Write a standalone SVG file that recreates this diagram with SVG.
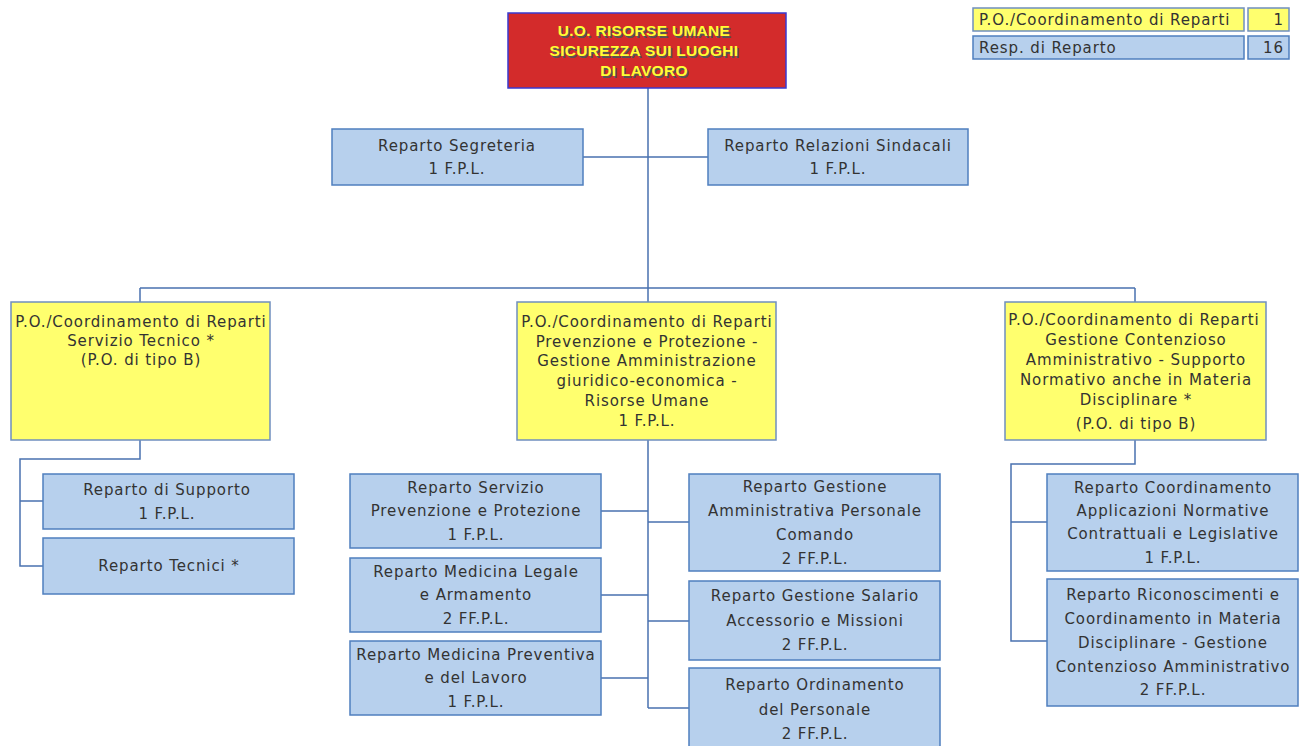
<svg xmlns="http://www.w3.org/2000/svg" width="1300" height="746" viewBox="0 0 1300 746">
<defs>
<style>
.b{fill:#b7d0ed;stroke:#4f7fbe;stroke-width:1.5}
.y{fill:#ffff6e;stroke:#6f8fbf;stroke-width:1.5}
.t{font-family:"DejaVu Sans","Liberation Sans",sans-serif;font-size:15px;letter-spacing:0.9px;fill:#333;text-anchor:middle}
.l{text-anchor:start}
.e{text-anchor:end}
.c{fill:none;stroke:#4a72b0;stroke-width:1.5}
.h{font-family:"Liberation Sans",Arial,sans-serif;font-weight:bold;font-size:15.5px;letter-spacing:0.3px;text-anchor:middle}
</style>
</defs>
<g id="connectors" class="c">
<path d="M648 88V288M583 157H708"/>
<path d="M140 288H1135M140 288V302M648 288V302M1135 288V302"/>
<path d="M140 440V459H20V566H43M20 501H43"/>
<path d="M648 440V708M601 511H648M601 595H648M601 678H648M648 522H689M648 621H689M648 708H689"/>
<path d="M1135 440V464H1011V641H1047M1011 522H1047"/>
</g>
<g id="top">
<rect x="508" y="13" width="278" height="75" fill="#d32b2b" stroke="#3a3ad0" stroke-width="1.5"/>
<g class="h" fill="#555">
<text x="645.5" y="37.5">U.O. RISORSE UMANE</text>
<text x="645.5" y="57.5">SICUREZZA SUI LUOGHI</text>
<text x="645.5" y="77.5">DI LAVORO</text>
</g>
<g class="h" fill="#ffff33">
<text x="644" y="36">U.O. RISORSE UMANE</text>
<text x="644" y="56">SICUREZZA SUI LUOGHI</text>
<text x="644" y="76">DI LAVORO</text>
</g>
</g>
<g id="legend">
<rect class="y" x="973" y="8" width="271" height="23"/>
<rect class="y" x="1248" y="8" width="41" height="23"/>
<rect class="b" x="973" y="36" width="271" height="23"/>
<rect class="b" x="1248" y="36" width="41" height="23"/>
<text class="t l" x="979" y="25">P.O./Coordinamento di Reparti</text>
<text class="t e" x="1284" y="25">1</text>
<text class="t l" x="979" y="53">Resp. di Reparto</text>
<text class="t e" x="1284" y="53">16</text>
</g>
<g id="segreteria">
<rect class="b" x="332" y="129" width="251" height="56"/>
<text class="t" x="457" y="151">Reparto Segreteria</text>
<text class="t" x="457" y="174">1 F.P.L.</text>
</g>
<g id="relazioni">
<rect class="b" x="708" y="129" width="260" height="56"/>
<text class="t" x="838" y="151">Reparto Relazioni Sindacali</text>
<text class="t" x="838" y="174">1 F.P.L.</text>
</g>
<g id="po-tecnico">
<rect class="y" x="11" y="302" width="259" height="138"/>
<text class="t" x="141" y="327">P.O./Coordinamento di Reparti</text>
<text class="t" x="141" y="346">Servizio Tecnico *</text>
<text class="t" x="141" y="365">(P.O. di tipo B)</text>
</g>
<g id="po-prevenzione">
<rect class="y" x="517" y="302" width="259" height="138"/>
<text class="t" x="647" y="327">P.O./Coordinamento di Reparti</text>
<text class="t" x="647" y="347">Prevenzione e Protezione -</text>
<text class="t" x="647" y="366">Gestione Amministrazione</text>
<text class="t" x="647" y="386">giuridico-economica -</text>
<text class="t" x="647" y="406">Risorse Umane</text>
<text class="t" x="647" y="426">1 F.P.L.</text>
</g>
<g id="po-contenzioso">
<rect class="y" x="1005" y="302" width="261" height="138"/>
<text class="t" x="1134" y="325">P.O./Coordinamento di Reparti</text>
<text class="t" x="1136" y="345">Gestione Contenzioso</text>
<text class="t" x="1136" y="365">Amministrativo - Supporto</text>
<text class="t" x="1136" y="385">Normativo anche in Materia</text>
<text class="t" x="1136" y="405">Disciplinare *</text>
<text class="t" x="1136" y="429">(P.O. di tipo B)</text>
</g>
<g id="supporto">
<rect class="b" x="43" y="474" width="251" height="55"/>
<text class="t" x="167" y="495">Reparto di Supporto</text>
<text class="t" x="167" y="519">1 F.P.L.</text>
</g>
<g id="tecnici">
<rect class="b" x="43" y="538" width="251" height="56"/>
<text class="t" x="169" y="571">Reparto Tecnici *</text>
</g>
<g id="spp">
<rect class="b" x="350" y="474" width="251" height="74"/>
<text class="t" x="476" y="493">Reparto Servizio</text>
<text class="t" x="476" y="516">Prevenzione e Protezione</text>
<text class="t" x="476" y="540">1 F.P.L.</text>
</g>
<g id="medicina-legale">
<rect class="b" x="350" y="558" width="251" height="74"/>
<text class="t" x="476" y="577">Reparto Medicina Legale</text>
<text class="t" x="476" y="600">e Armamento</text>
<text class="t" x="476" y="624">2 FF.P.L.</text>
</g>
<g id="medicina-preventiva">
<rect class="b" x="350" y="641" width="251" height="74"/>
<text class="t" x="476" y="660">Reparto Medicina Preventiva</text>
<text class="t" x="476" y="683">e del Lavoro</text>
<text class="t" x="476" y="707">1 F.P.L.</text>
</g>
<g id="gestione-amm">
<rect class="b" x="689" y="474" width="251" height="97"/>
<text class="t" x="815" y="492">Reparto Gestione</text>
<text class="t" x="815" y="516">Amministrativa Personale</text>
<text class="t" x="815" y="540">Comando</text>
<text class="t" x="815" y="564">2 FF.P.L.</text>
</g>
<g id="salario">
<rect class="b" x="689" y="581" width="251" height="79"/>
<text class="t" x="815" y="601">Reparto Gestione Salario</text>
<text class="t" x="815" y="626">Accessorio e Missioni</text>
<text class="t" x="815" y="650">2 FF.P.L.</text>
</g>
<g id="ordinamento">
<rect class="b" x="689" y="668" width="251" height="82"/>
<text class="t" x="815" y="690">Reparto Ordinamento</text>
<text class="t" x="815" y="715">del Personale</text>
<text class="t" x="815" y="739">2 FF.P.L.</text>
</g>
<g id="applicazioni">
<rect class="b" x="1047" y="474" width="251" height="97"/>
<text class="t" x="1173" y="493">Reparto Coordinamento</text>
<text class="t" x="1173" y="516">Applicazioni Normative</text>
<text class="t" x="1173" y="539">Contrattuali e Legislative</text>
<text class="t" x="1173" y="563">1 F.P.L.</text>
</g>
<g id="riconoscimenti">
<rect class="b" x="1047" y="579" width="251" height="127"/>
<text class="t" x="1173" y="600">Reparto Riconoscimenti e</text>
<text class="t" x="1173" y="624">Coordinamento in Materia</text>
<text class="t" x="1173" y="648">Disciplinare - Gestione</text>
<text class="t" x="1173" y="672">Contenzioso Amministrativo</text>
<text class="t" x="1173" y="695">2 FF.P.L.</text>
</g>
</svg>
